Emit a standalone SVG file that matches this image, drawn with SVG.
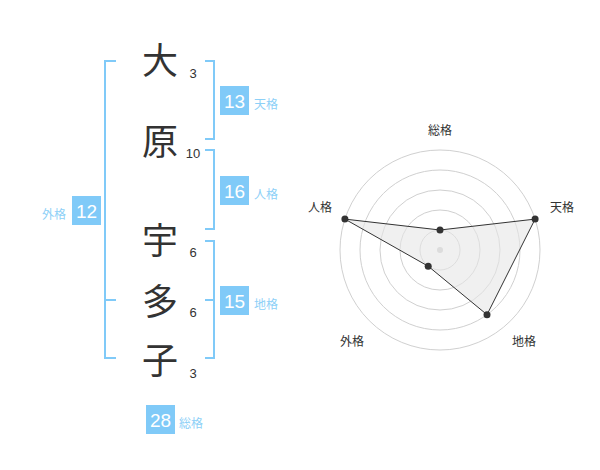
<svg xmlns="http://www.w3.org/2000/svg" width="600" height="470" viewBox="0 0 600 470">
<style>
.ch{font-family:"Noto Sans CJK JP","Noto Sans CJK SC",sans-serif;font-size:36px;fill:#333;text-anchor:middle}
.st{font-family:"Liberation Sans",Arial,sans-serif;font-size:13px;fill:#333;text-anchor:middle}
.box{fill:#80caf8}
.bn{font-family:"Liberation Sans",Arial,sans-serif;font-size:19px;fill:#fff;text-anchor:middle}
.lb{font-family:"Noto Sans CJK JP","Noto Sans CJK SC",sans-serif;font-size:12px;fill:#8dd0f7}
.br{fill:none;stroke:#80caf8;stroke-width:2}
.ring{fill:none;stroke:#d0d0d0;stroke-width:1}
.rl{font-family:"Noto Sans CJK JP","Noto Sans CJK SC",sans-serif;font-size:12px;fill:#333;text-anchor:middle}
.dot{fill:#333}
</style>
<rect width="600" height="470" fill="#fff"/>
<g id="connectors">
<path class="br" d="M116,61 H105 V358 H116 M105,300 H116"/>
<path class="br" d="M205,61 H214 V139 H205"/>
<path class="br" d="M205,150 H214 V229 H205"/>
<path class="br" d="M205,241 H214 V358 H205 M205,300 H214"/>
</g>
<g id="char-dai"><text class="ch" x="160" y="74">大</text><text class="st" x="193" y="78">3</text></g>
<g id="char-hara"><text class="ch" x="160" y="155">原</text><text class="st" x="193" y="158">10</text></g>
<g id="char-u"><text class="ch" x="160" y="254">宇</text><text class="st" x="193" y="257">6</text></g>
<g id="char-ta"><text class="ch" x="160" y="315">多</text><text class="st" x="193" y="317">6</text></g>
<g id="char-ko"><text class="ch" x="160" y="374">子</text><text class="st" x="193" y="378">3</text></g>
<g id="tenkaku"><rect class="box" x="220" y="86" width="29" height="29"/><text class="bn" x="234.5" y="107.5">13</text><text class="lb" x="254" y="109">天格</text></g>
<g id="jinkaku"><rect class="box" x="220" y="176" width="29" height="29"/><text class="bn" x="234.5" y="197.5">16</text><text class="lb" x="254" y="199">人格</text></g>
<g id="chikaku"><rect class="box" x="220" y="286" width="29" height="29"/><text class="bn" x="234.5" y="307.5">15</text><text class="lb" x="254" y="309">地格</text></g>
<g id="gaikaku"><rect class="box" x="72" y="196" width="29" height="29"/><text class="bn" x="86.5" y="217.5">12</text><text class="lb" x="66" y="219" text-anchor="end">外格</text></g>
<g id="soukaku"><rect class="box" x="146" y="405" width="29" height="29"/><text class="bn" x="160.5" y="426.5">28</text><text class="lb" x="179" y="428">総格</text></g>
<g id="radar">
<circle class="ring" cx="440" cy="250" r="20"/>
<circle class="ring" cx="440" cy="250" r="40"/>
<circle class="ring" cx="440" cy="250" r="60"/>
<circle class="ring" cx="440" cy="250" r="80"/>
<circle class="ring" cx="440" cy="250" r="100"/>
<circle cx="440" cy="250" r="3" fill="#ccc"/>
<polygon points="440,230 535.1,219.1 487,314.7 428.2,266.2 344.9,219.1" fill="#e6e6e6" fill-opacity="0.6" stroke="#333" stroke-width="1"/>
<circle class="dot" cx="440" cy="230" r="3.5"/>
<circle class="dot" cx="535.1" cy="219.1" r="3.5"/>
<circle class="dot" cx="487" cy="314.7" r="3.5"/>
<circle class="dot" cx="428.2" cy="266.2" r="3.5"/>
<circle class="dot" cx="344.9" cy="219.1" r="3.5"/>
<text class="rl" x="440" y="135">総格</text>
<text class="rl" x="562" y="212">天格</text>
<text class="rl" x="320" y="212">人格</text>
<text class="rl" x="352" y="346">外格</text>
<text class="rl" x="524" y="346">地格</text>
</g>
</svg>
